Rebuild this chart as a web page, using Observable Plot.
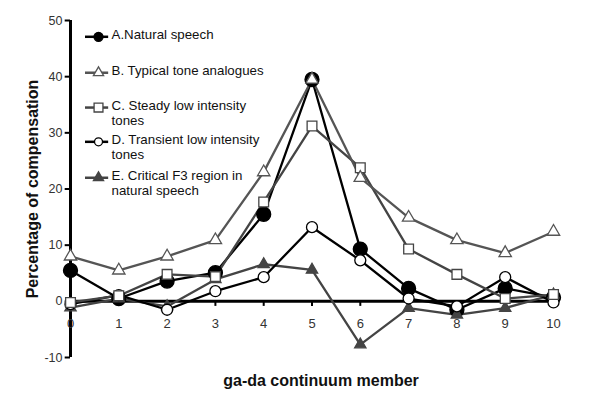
<!DOCTYPE html>
<html><head><meta charset="utf-8">
<script src="https://cdn.jsdelivr.net/npm/d3@7"></script>
<script src="https://cdn.jsdelivr.net/npm/@observablehq/plot@0.6"></script>
<style>body{margin:0;background:#fff;} svg{font-family:"Liberation Sans",Arial,sans-serif;}</style>
</head><body><div id="chart"></div>
<script>
const members = [0,1,2,3,4,5,6,7,8,9,10];
const xTicks = [0,1,2,3,4,5,6,7,8,9,10];
const yTicks = [-10,0,10,20,30,40,50];
const seriesNames = ["A.Natural speech","B. Typical tone analogues","C. Steady low intensity\ntones","D. Transient low intensity\ntones","E. Critical F3 region in\nnatural speech"];
const valuesA = [5.5,0.5,3.6,5.1,15.5,39.5,9.3,2.3,-1.5,2.3,0.7];
const valuesB = [8.0,5.5,8.0,10.9,23.0,39.5,22.0,14.9,10.9,8.6,12.4];
const valuesC = [-0.2,1.0,4.8,4.4,17.7,31.2,23.8,9.3,4.8,0.5,1.2];
const valuesD = [-0.5,1.1,-1.5,1.8,4.3,13.2,7.3,0.5,-0.9,4.3,-0.2];
const valuesE = [-1.1,0.5,-0.9,3.9,6.6,5.6,-7.7,-1.2,-2.4,-1.2,1.2];

const styles = [
  {stroke:"#000", symbol:"circle", fill:"#000", r:7, lr:4.5},
  {stroke:"#555", symbol:"triangle", fill:"#fff", r:4.6, lr:3.8},
  {stroke:"#444", symbol:"square", fill:"#fff", r:5.5, lr:5},
  {stroke:"#000", symbol:"circle", fill:"#fff", r:5.5, lr:4},
  {stroke:"#444", symbol:"triangle", fill:"#444", r:4.2, lr:3.8}
];
const allValues = [valuesA,valuesB,valuesC,valuesD,valuesE];
const series = allValues.map((vals,i)=>members.map((m,j)=>({x:m,y:vals[j],s:i})));

// legend rows in data space
const legendY = [47.1,40.7,34.5,28.4,22.0];
const legend = seriesNames.map((n,i)=>({name:n,y:legendY[i],s:i}));

const marks = [];
// axes
marks.push(Plot.ruleX([0],{y1:-10,y2:50,stroke:"#000",strokeWidth:3}));
marks.push(Plot.ruleY([0],{x1:0,x2:10,stroke:"#000",strokeWidth:3}));
marks.push(Plot.ruleY(yTicks,{y:d=>d,x1:0,x2:-0.11,stroke:"#000",strokeWidth:2}));
marks.push(Plot.ruleX(xTicks,{x:d=>d,y1:0,y2:-0.9,stroke:"#000",strokeWidth:2}));
marks.push(Plot.text(yTicks,{x:0,y:d=>d,text:d=>String(d),textAnchor:"end",dx:-8,fontSize:12.5,fill:"#333"}));
marks.push(Plot.text(xTicks,{x:d=>d,y:0,text:d=>String(d),dy:22,fontSize:13,fill:"#333"}));
marks.push(Plot.text(["Percentage of compensation"],{frameAnchor:"left",textAnchor:"middle",rotate:-90,dx:-38,fontSize:16,fontWeight:"bold",fill:"#111"}));
marks.push(Plot.text(["ga-da continuum member"],{frameAnchor:"bottom",dx:9,dy:28,fontSize:16,fontWeight:"bold",fill:"#111"}));

const order = [0,4,3,2,1];
for (const i of order) {
  const st = styles[i];
  marks.push(Plot.line(series[i],{x:"x",y:"y",stroke:st.stroke,strokeWidth:2.3}));
}
for (const i of order) {
  const st = styles[i];
  marks.push(Plot.dot(series[i],{x:"x",y:"y",symbol:()=>st.symbol,r:st.r,fill:st.fill,stroke:st.stroke,strokeWidth:1.3}));
}
// legend
for (const l of legend) {
  const st = styles[l.s];
  marks.push(Plot.ruleY([l],{y:"y",x1:0.31,x2:0.79,stroke:st.stroke,strokeWidth:2.5}));
  marks.push(Plot.dot([l],{x:()=>0.58,y:"y",symbol:()=>st.symbol,r:st.lr,fill:st.fill,stroke:st.stroke,strokeWidth:1.3}));
  marks.push(Plot.text([l],{x:()=>0.85,y:"y",text:"name",textAnchor:"start",lineAnchor:"top",dy:-8,lineHeight:1.1,fontSize:13.3,fill:"#111"}));
}

const chart = Plot.plot({
  width:600, height:409,
  marginLeft:70, marginRight:47, marginTop:20, marginBottom:52,
  x:{type:"linear", domain:[0,10], axis:null},
  y:{type:"linear", domain:[-10,50], axis:null},
  marks
});
document.getElementById("chart").appendChild(chart);
</script></body></html>
